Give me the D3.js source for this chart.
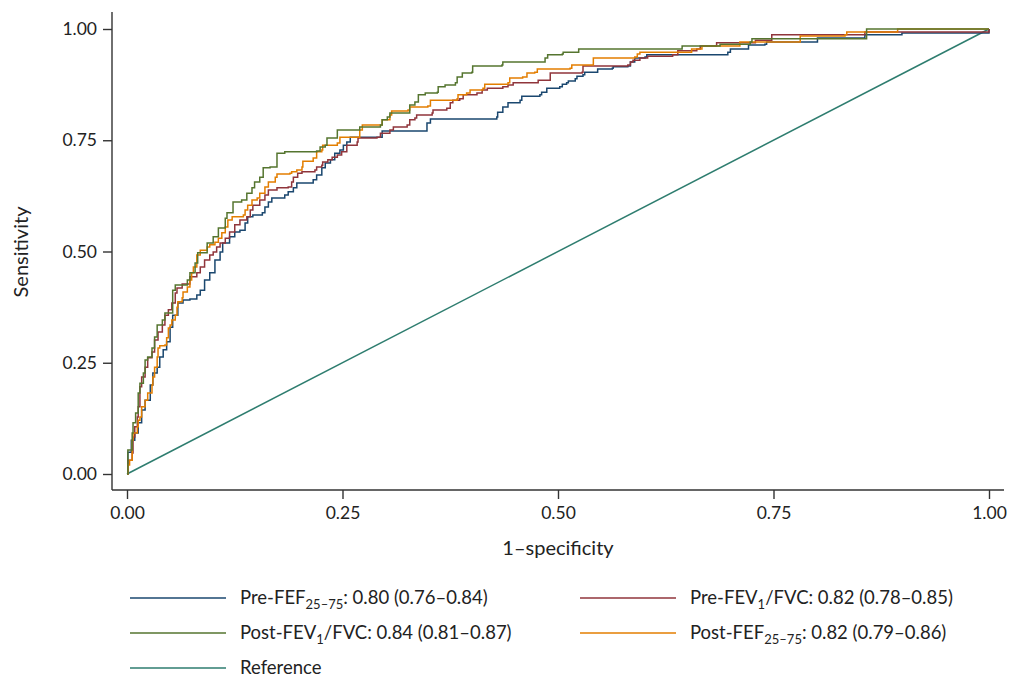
<!DOCTYPE html>
<html>
<head>
<meta charset="utf-8">
<script src="https://cdn.jsdelivr.net/npm/d3@7"></script>
<style>
  body { margin: 0; background: #fff; }
  svg text { font-family: "Source Sans Pro", Lato, "Noto Sans", sans-serif; fill: #222; }
</style>
</head>
<body>
<svg id="chart" width="1009" height="677"></svg>
<script>
// ROC corner points [1-specificity, sensitivity]
var preFEF = [[0,0],[.001,.049],[.005,.076],[.009,.092],[.013,.115],[.017,.144],[.021,.166],[.027,.200],[.030,.227],[.035,.240],[.038,.263],[.042,.279],[.046,.297],[.050,.330],[.053,.357],[.059,.384],[.065,.391],[.073,.393],[.081,.402],[.085,.413],[.090,.436],[.096,.452],[.102,.481],[.108,.499],[.111,.519],[.119,.533],[.125,.544],[.131,.548],[.137,.564],[.140,.578],[.146,.582],[.157,.587],[.160,.600],[.164,.611],[.168,.620],[.183,.627],[.187,.634],[.193,.643],[.197,.654],[.212,.654],[.216,.661],[.220,.672],[.226,.688],[.230,.699],[.236,.706],[.241,.721],[.247,.728],[.251,.739],[.255,.746],[.259,.757],[.294,.757],[.296,.771],[.342,.771],[.348,.789],[.352,.798],[.429,.802],[.430,.813],[.436,.825],[.442,.834],[.456,.840],[.458,.849],[.479,.852],[.481,.858],[.487,.867],[.502,.870],[.505,.876],[.510,.879],[.512,.883],[.520,.888],[.522,.894],[.529,.897],[.531,.903],[.545,.903],[.546,.910],[.563,.912],[.564,.915],[.581,.917],[.584,.926],[.589,.935],[.601,.937],[.603,.942],[.696,.942],[.697,.948],[.700,.955],[.720,.955],[.721,.964],[.740,.966],[.742,.971],[.800,.971],[.801,.980],[.854,.980],[.856,.987],[.897,.987],[.899,.991],[.961,.991],[1,1]];

var preFEV = [[0,0],[.001,.031],[.006,.047],[.007,.083],[.009,.106],[.012,.128],[.013,.151],[.015,.196],[.017,.218],[.021,.240],[.024,.261],[.029,.274],[.032,.301],[.036,.319],[.041,.335],[.044,.357],[.048,.369],[.052,.384],[.056,.407],[.058,.418],[.064,.427],[.073,.443],[.081,.452],[.085,.465],[.090,.481],[.096,.492],[.100,.499],[.104,.510],[.108,.519],[.114,.530],[.119,.544],[.125,.560],[.131,.571],[.139,.578],[.143,.593],[.146,.604],[.154,.616],[.160,.627],[.164,.638],[.174,.643],[.187,.645],[.191,.656],[.193,.667],[.198,.676],[.203,.679],[.218,.683],[.220,.690],[.226,.694],[.227,.701],[.233,.706],[.238,.712],[.244,.717],[.249,.724],[.255,.739],[.267,.746],[.268,.755],[.290,.757],[.294,.766],[.305,.773],[.309,.780],[.325,.784],[.328,.796],[.334,.800],[.336,.807],[.354,.811],[.355,.818],[.371,.822],[.375,.834],[.378,.840],[.386,.843],[.390,.852],[.406,.856],[.412,.863],[.418,.867],[.436,.870],[.442,.874],[.448,.879],[.471,.879],[.477,.885],[.491,.901],[.528,.903],[.529,.917],[.581,.919],[.584,.926],[.587,.930],[.595,.935],[.604,.939],[.633,.942],[.639,.951],[.661,.955],[.665,.962],[.684,.969],[.709,.969],[.729,.975],[.748,.987],[.854,.987],[.856,.993],[.998,.993],[1,1]];

var postFEV = [[0,0],[.001,.054],[.006,.092],[.007,.115],[.010,.137],[.013,.182],[.015,.204],[.019,.227],[.021,.256],[.024,.263],[.029,.283],[.032,.308],[.035,.335],[.041,.346],[.044,.362],[.053,.413],[.056,.425],[.064,.425],[.070,.436],[.073,.452],[.079,.474],[.082,.497],[.093,.519],[.100,.533],[.106,.553],[.114,.575],[.116,.587],[.123,.611],[.133,.616],[.139,.631],[.145,.643],[.148,.656],[.154,.667],[.158,.688],[.166,.690],[.174,.721],[.183,.724],[.220,.726],[.224,.735],[.230,.739],[.232,.755],[.244,.773],[.270,.780],[.294,.784],[.296,.796],[.302,.802],[.305,.811],[.326,.811],[.328,.829],[.334,.836],[.338,.852],[.346,.856],[.360,.858],[.361,.870],[.369,.874],[.381,.879],[.383,.892],[.389,.901],[.400,.903],[.401,.917],[.435,.919],[.436,.926],[.485,.935],[.488,.942],[.505,.944],[.506,.948],[.524,.955],[.642,.955],[.644,.962],[.665,.962],[.688,.966],[.723,.971],[.725,.978],[.854,.978],[.858,1],[1,1]];

var postFEF = [[0,0],[.001,.020],[.003,.031],[.006,.076],[.007,.092],[.012,.106],[.013,.121],[.015,.128],[.017,.151],[.021,.166],[.024,.182],[.029,.200],[.030,.218],[.032,.240],[.035,.263],[.036,.283],[.038,.288],[.044,.290],[.046,.306],[.048,.328],[.050,.335],[.052,.346],[.056,.357],[.058,.375],[.059,.387],[.064,.396],[.065,.409],[.070,.420],[.073,.436],[.075,.452],[.077,.465],[.081,.492],[.085,.503],[.093,.510],[.096,.515],[.102,.521],[.106,.530],[.110,.542],[.114,.555],[.117,.571],[.122,.578],[.135,.582],[.137,.593],[.140,.604],[.145,.616],[.151,.620],[.154,.631],[.160,.645],[.164,.656],[.172,.667],[.174,.674],[.189,.676],[.191,.679],[.197,.683],[.203,.690],[.204,.703],[.216,.710],[.220,.724],[.226,.728],[.227,.739],[.244,.744],[.247,.757],[.270,.773],[.273,.784],[.294,.784],[.296,.796],[.305,.807],[.307,.816],[.326,.818],[.328,.825],[.349,.827],[.352,.840],[.383,.843],[.384,.852],[.394,.856],[.398,.863],[.413,.867],[.415,.876],[.442,.879],[.444,.890],[.459,.892],[.464,.901],[.473,.903],[.476,.910],[.514,.912],[.516,.919],[.539,.919],[.541,.935],[.589,.937],[.592,.944],[.595,.948],[.653,.948],[.655,.955],[.667,.962],[.709,.962],[.711,.971],[.763,.971],[.781,.984],[.833,.987],[.835,.993],[.853,.993],[.894,1],[1,1]];

var reference = [[0,0],[1,1]];

var tickVals = [0, 0.25, 0.5, 0.75, 1];

var series = [
  { name: "Pre-FEF", sub: "25\u201375", rest: ": 0.80 (0.76\u20130.84)", data: preFEF, color: "#1a476f", step: true },
  { name: "Pre-FEV", sub: "1", rest: "/FVC: 0.82 (0.78\u20130.85)", data: preFEV, color: "#90353b", step: true },
  { name: "Post-FEV", sub: "1", rest: "/FVC: 0.84 (0.81\u20130.87)", data: postFEV, color: "#55752f", step: true },
  { name: "Post-FEF", sub: "25\u201375", rest: ": 0.82 (0.79\u20130.86)", data: postFEF, color: "#e37e00", step: true },
  { name: "Reference", sub: "", rest: "", data: reference, color: "#2e7d6f", step: false }
];

var svg = d3.select("#chart");

var x = d3.scaleLinear().domain([0, 1]).range([127, 989]);
var y = d3.scaleLinear().domain([0, 1]).range([474, 29]);

// axes (plot region a bit wider than the data range)
var yAxis = d3.axisLeft(y).tickValues(tickVals).tickFormat(d3.format(".2f")).tickSize(9).tickPadding(6);
var gy = svg.append("g").attr("transform", "translate(112,0)").call(yAxis);
gy.select(".domain").attr("d", "M0,12V490");

var xAxis = d3.axisBottom(x).tickValues(tickVals).tickFormat(d3.format(".2f")).tickSize(9).tickPadding(8);
var gx = svg.append("g").attr("transform", "translate(0,490)").call(xAxis);
gx.select(".domain").attr("d", "M112,0H1004");

svg.selectAll(".tick text").style("font-size", "17.5px").attr("fill", "#222");
svg.selectAll(".domain, .tick line").attr("stroke", "#333").attr("stroke-width", 1.4);

svg.append("text").attr("x", 558).attr("y", 555).attr("text-anchor", "middle")
  .style("font-size", "20px").text("1\u2013specificity");
svg.append("text").attr("transform", "translate(28,252) rotate(-90)").attr("text-anchor", "middle")
  .style("font-size", "20px").text("Sensitivity");

// curves
var stepLine = d3.line().x(function (d) { return x(d[0]); }).y(function (d) { return y(d[1]); }).curve(d3.curveStepAfter);
var plainLine = d3.line().x(function (d) { return x(d[0]); }).y(function (d) { return y(d[1]); });

var drawOrder = [4, 0, 1, 3, 2];
drawOrder.forEach(function (i) {
  var s = series[i];
  svg.append("path")
    .attr("d", (s.step ? stepLine : plainLine)(s.data))
    .attr("fill", "none")
    .attr("stroke", s.color)
    .attr("stroke-width", 1.5);
});

// legend
var legendPos = [
  { lx: 130, ly: 598 }, { lx: 580, ly: 598 },
  { lx: 130, ly: 633 }, { lx: 580, ly: 633 },
  { lx: 130, ly: 668 }
];
series.forEach(function (s, i) {
  var p = legendPos[i];
  svg.append("line").attr("x1", p.lx).attr("x2", p.lx + 96).attr("y1", p.ly).attr("y2", p.ly)
    .attr("stroke", s.color).attr("stroke-width", 1.5);
  var t = svg.append("text").attr("x", p.lx + 110).attr("y", p.ly + 6).style("font-size", "18.5px");
  t.append("tspan").text(s.name);
  if (s.sub) {
    t.append("tspan").attr("dy", 5).style("font-size", "13px").text(s.sub);
    t.append("tspan").attr("dy", -5).text(s.rest);
  }
});
</script>
</body>
</html>
